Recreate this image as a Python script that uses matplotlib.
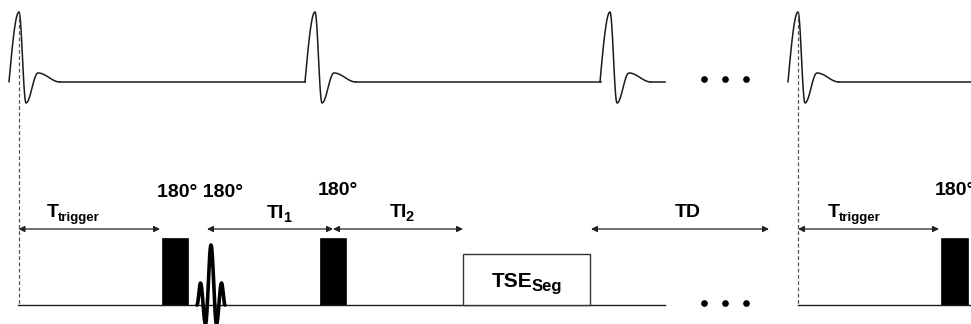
import numpy as np
import matplotlib.pyplot as plt
from matplotlib.patches import Rectangle

plt.rcParams['font.family'] = ['Liberation Sans', 'DejaVu Sans']

# layout in pixel units (y grows downwards)
W, H = 971, 324
ecg_base = 82
rf_base = 305
arrow_y = 229

# R-peak positions of the four heart beats
r_peaks = [19, 315, 610, 798]
# flat ECG stretches between beats
ecg_flat = [(60, 305), (356, 601), (651, 665), (839, 971)]
# QRS/T template: extrema relative to the R peak (dx, height above baseline)
ecg_dx = [-10, 0, 7, 19, 41]
ecg_dy = [0, 70, -21, 9, 0]
ecg_ease = ['sin', 'cos', 'cos', 'cos']

# trigger lines and RF baseline
trigger_x = [18.5, 798]
rf_flat = [(18, 665), (798, 971)]

# 180° inversion pulses (left, right)
inv_pulses = [(162, 188), (320, 346), (941, 968)]
pulse_top = 238
# slice-selective 180° sinc pulse
sinc_center = 211
sinc_dx = [-14, -10.5, -5.5, 0, 5.5, 10.5, 14]
sinc_dy = [0, 22, -19, 60, -19, 22, 0]

# readout block
tse_box = (463, 590, 254)

# timing arrows (start, end)
arrows = [(18.5, 160), (207, 333), (333, 463), (591, 769), (798, 939)]

# labels
pulse_labels = [(157, 197, '180° 180°'), (318, 195, '180°'), (935, 195, '180°')]
interval_labels = [
    (47, 217, 'T', 'trigger', 9.5, 14),
    (267, 218, 'TI', '1', 10.5, 14),
    (390, 217, 'TI', '2', 10.5, 14),
    (675, 217, 'TD', '', 0, 14),
    (828, 217, 'T', 'trigger', 9.5, 14),
    (492, 287, 'TSE', 'Seg', 12, 15),
]
dots_x = [704, 725, 746]


def eased_curve(xs, ys, modes, n=30):
    out_x, out_y = [], []
    for i in range(len(xs) - 1):
        t = np.linspace(0, 1, n)
        mode = modes[i] if modes else 'cos'
        if mode == 'sin':
            f = np.sin(np.pi * t / 2)
        else:
            f = (1 - np.cos(np.pi * t)) / 2
        out_x.extend(xs[i] + (xs[i + 1] - xs[i]) * t)
        out_y.extend(ys[i] + (ys[i + 1] - ys[i]) * f)
    return np.array(out_x), np.array(out_y)


fig = plt.figure(figsize=(W / 100, H / 100), dpi=100)
ax = fig.add_axes([0, 0, 1, 1])
ax.set_xlim(0, W)
ax.set_ylim(H, 0)
ax.axis('off')

line_col = '#1a1a1a'

# ECG trace
for r in r_peaks:
    x, y = eased_curve([r + d for d in ecg_dx], ecg_dy, ecg_ease)
    ax.plot(x, ecg_base - y, color=line_col, lw=1.1, solid_capstyle='round')
for x0, x1 in ecg_flat:
    ax.plot([x0, x1], [ecg_base, ecg_base], color=line_col, lw=1.1)
ax.plot(dots_x, [79] * 3, 'o', color='black', ms=3.8)

# trigger lines
for tx in trigger_x:
    ax.plot([tx, tx], [12, rf_base], color='#555555', lw=0.9, ls=(0, (3, 2)))

# RF line
for x0, x1 in rf_flat:
    ax.plot([x0, x1], [rf_base, rf_base], color=line_col, lw=1.0)
ax.plot(dots_x, [303] * 3, 'o', color='black', ms=3.8)

for x0, x1 in inv_pulses:
    ax.add_patch(Rectangle((x0, pulse_top), x1 - x0, rf_base - pulse_top,
                           facecolor='black', edgecolor='black', lw=0.5))

sx, sy = eased_curve([sinc_center + d for d in sinc_dx], sinc_dy, None)
ax.plot(sx, rf_base - sy, color='black', lw=2.6, solid_capstyle='round')

bx0, bx1, btop = tse_box
ax.add_patch(Rectangle((bx0, btop), bx1 - bx0, rf_base - btop,
                       facecolor='white', edgecolor='#333333', lw=1.0, zorder=3))

# timing arrows
for a0, a1 in arrows:
    ax.annotate('', xy=(a1, arrow_y), xytext=(a0, arrow_y),
                arrowprops=dict(arrowstyle='<|-|>', color='#222222', lw=0.9,
                                mutation_scale=9, shrinkA=0, shrinkB=0))

# text
for x, y, s in pulse_labels:
    ax.text(x, y, s, fontsize=14, fontweight='bold', ha='left', va='baseline',
            color='black')

fig.canvas.draw()
renderer = fig.canvas.get_renderer()
for x, y, main, sub, sub_size, main_size in interval_labels:
    t = ax.text(x, y, main, fontsize=main_size, fontweight='bold', ha='left',
                va='baseline', color='black', zorder=4)
    if sub:
        bb = t.get_window_extent(renderer=renderer)
        x_end = ax.transData.inverted().transform((bb.x1, bb.y0))[0]
        ax.text(x_end - 1.5, y + 4, sub, fontsize=sub_size, fontweight='bold',
                ha='left', va='baseline', color='black', zorder=4)

fig.savefig('out.png', dpi=100)
